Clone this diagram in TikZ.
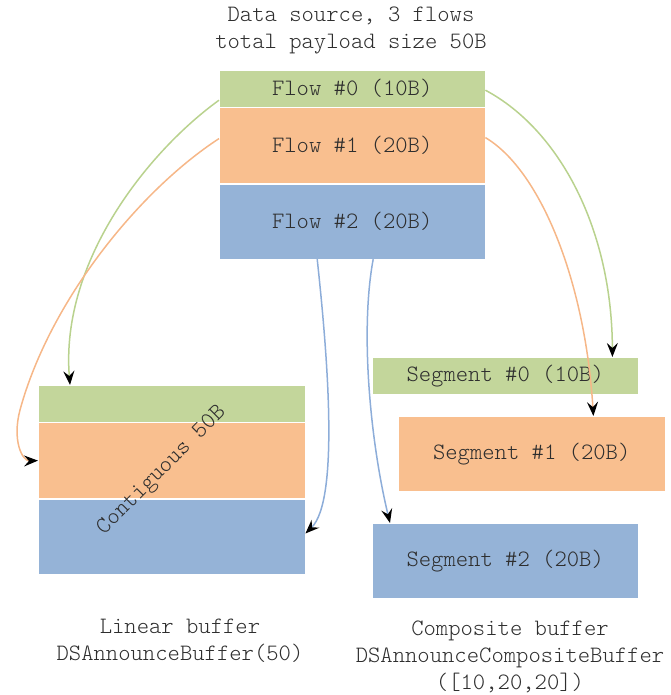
\documentclass[tikz,border=0pt]{standalone}
\usepackage{fontspec}
\newfontfamily\monofont{Latin Modern Mono Light}
\usetikzlibrary{positioning,arrows.meta}

\definecolor{flowgreen}{HTML}{C3D69B}
\definecolor{floworange}{HTML}{F9BF8F}
\definecolor{flowblue}{HTML}{95B3D7}
\definecolor{linkgreen}{HTML}{B9D28E}
\definecolor{linkorange}{HTML}{F6B788}
\definecolor{linkblue}{HTML}{8DADD9}
\definecolor{txt}{HTML}{2E2E2E}

\begin{document}
\begin{tikzpicture}[x=1pt,y=-1pt,
  font=\monofont\fontsize{23.5}{27}\selectfont, text=txt,
  blk/.style={inner sep=0pt, minimum width=266pt, draw=white, line width=0.4pt},
  link/.style={line width=1.5pt, -{Stealth[black,length=14pt,width=11pt,inset=5pt]}}]

\useasboundingbox (0,0) rectangle (670,695);

% data source
\node[align=center] (title) at (351,30.5) {Data source, 3 flows\\total payload size 50B};
\node[blk, fill=flowgreen, minimum height=37pt, anchor=north west] (f0) at (219,70) {Flow \#0 (10B)};
\node[blk, fill=floworange, minimum height=76pt, below=0pt of f0] (f1) {Flow \#1 (20B)};
\node[blk, fill=flowblue, minimum height=75pt, below=0pt of f1] (f2) {Flow \#2 (20B)};

% linear buffer
\node[blk, fill=flowgreen, minimum width=267pt, minimum height=37pt, anchor=north west] (lin0) at (38,385) {};
\node[blk, fill=floworange, minimum width=267pt, minimum height=76pt, below=0pt of lin0] (lin1) {};
\node[blk, fill=flowblue, minimum width=267pt, minimum height=75pt, below=0pt of lin1] (lin2) {};
\node[rotate=45] (contig) at (162,471) {Contiguous 50B};

% composite buffer
\node[blk, fill=flowgreen, minimum height=37pt, anchor=north west] (seg0) at (372,357) {Segment \#0 (10B)};
\node[blk, fill=floworange, minimum width=267pt, minimum height=75pt, anchor=north west] (seg1) at (398,416) {Segment \#1 (20B)};
\node[blk, fill=flowblue, minimum height=75pt, anchor=north west] (seg2) at (372,523) {Segment \#2 (20B)};

\node[align=center] (linlbl) at (180,641) {Linear buffer\\DSAnnounceBuffer(50)};
\node[align=center] (complbl) at (510,657) {Composite buffer\\DSAnnounceCompositeBuffer\\([10,20,20])};

% flows into the linear buffer
\draw[link, linkgreen] ([yshift=-11.5pt]f0.west) .. controls (150,150) and (60,260) .. ([xshift=32pt]lin0.north west);
\draw[link, linkorange] ([yshift=7pt]f1.west) .. controls (140,190) and (50,300) .. (20,410)
  .. controls (12,440) and (22,461) .. (lin1.west);
\draw[link, linkblue] ([xshift=-35pt]f2.south) .. controls (327,350) and (340,500) .. ([yshift=3pt]lin2.east);

% flows into the segments
\draw[link, linkgreen] ([yshift=-1.5pt]f0.east) .. controls (560,130) and (612,230) .. ([xshift=-26pt]seg0.north east);
\draw[link, linkorange] ([yshift=8pt]f1.east) .. controls (540,170) and (585,280) .. ([xshift=-72pt]seg1.north east);
\draw[link, linkblue] ([xshift=21pt]f2.south) .. controls (360,330) and (370,440) .. ([xshift=18pt]seg2.north west);

\end{tikzpicture}
\end{document}
